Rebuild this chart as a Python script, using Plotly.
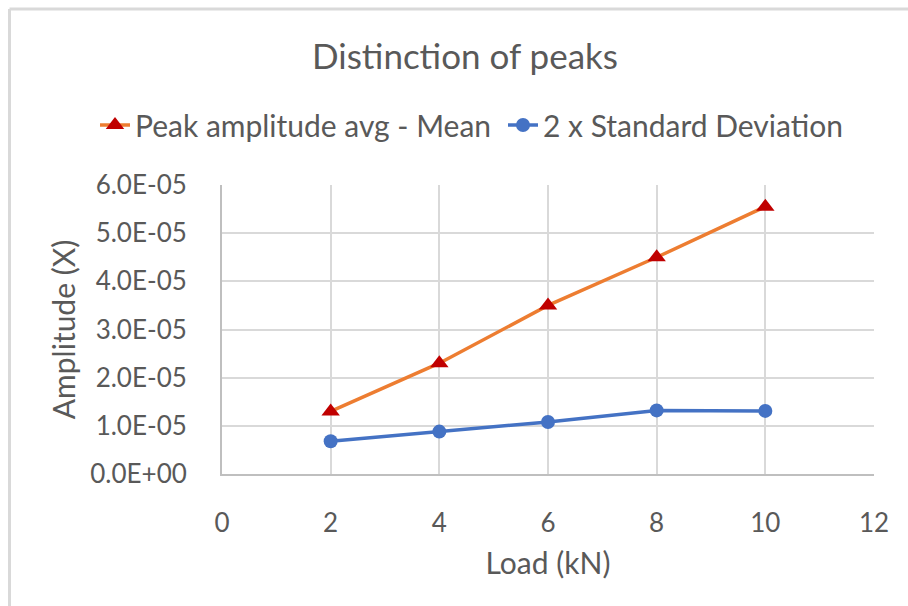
import plotly.graph_objects as go

# Load steps (kN)
load_kn = [2, 4, 6, 8, 10]
# Peak amplitude average minus mean
peak_minus_mean = [1.30e-05, 2.30e-05, 3.50e-05, 4.50e-05, 5.55e-05]
# Two times the standard deviation
two_std = [0.68e-05, 0.88e-05, 1.08e-05, 1.32e-05, 1.31e-05]

x_ticks = [0, 2, 4, 6, 8, 10, 12]
y_ticks = [0, 1e-05, 2e-05, 3e-05, 4e-05, 5e-05, 6e-05]
y_tick_text = ["0.0E+00", "1.0E-05", "2.0E-05", "3.0E-05", "4.0E-05", "5.0E-05", "6.0E-05"]

FONT = "Lato"
TEXT = "#595959"
GRID = "#D9D9D9"

fig = go.Figure()
fig.add_trace(go.Scatter(
    x=load_kn, y=peak_minus_mean, mode="lines+markers",
    name="Peak amplitude avg - Mean",
    line=dict(color="#ED7D31", width=3.5),
    marker=dict(symbol="triangle-up", size=16, color="#C00000"),
))
fig.add_trace(go.Scatter(
    x=load_kn, y=two_std, mode="lines+markers",
    name="2 x Standard Deviation",
    line=dict(color="#4472C4", width=3.5),
    marker=dict(symbol="circle", size=14, color="#4472C4"),
))

L, R, T, B = 222, 34, 185, 132
W, H = 908, 606
pw, ph = W - L - R, H - T - B

fig.update_layout(
    width=W, height=H,
    margin=dict(l=L, r=R, t=T, b=B, autoexpand=False),
    paper_bgcolor="white", plot_bgcolor="white",
    font=dict(family=FONT, color=TEXT, size=26),
    title=dict(text="Distinction of peaks", x=465 / W, xanchor="center",
               y=1 - 57 / H, yanchor="middle", yref="container",
               font=dict(size=35, color=TEXT, family=FONT)),
    # legend sits left of and above the plot area so it may span the full width
    legend=dict(orientation="h", x=(95 - L) / pw, xanchor="left",
                y=(H - B - 125) / ph, yanchor="middle",
                font=dict(size=30, color=TEXT, family=FONT),
                entrywidth=363, entrywidthmode="pixels",
                itemwidth=30, bgcolor="rgba(0,0,0,0)"),
    showlegend=True,
)

fig.update_xaxes(
    range=[0, 12], tickvals=x_ticks, showgrid=True, gridcolor=GRID, gridwidth=2,
    zeroline=False, showline=True, linecolor="#BFBFBF", linewidth=2,
    ticks="", ticklabelstandoff=25,
    tickfont=dict(size=26, color=TEXT, family=FONT),
    title=dict(text="Load (kN)", font=dict(size=30, color=TEXT, family=FONT), standoff=16),
)
fig.update_yaxes(
    range=[0, 6e-05], tickvals=y_ticks, ticktext=y_tick_text,
    showgrid=True, gridcolor=GRID, gridwidth=2,
    zeroline=False, showline=True, linecolor="#BFBFBF", linewidth=2,
    ticks="", ticklabelstandoff=28,
    tickfont=dict(size=26, color=TEXT, family=FONT),
    title=dict(text="Amplitude (X)", font=dict(size=30, color=TEXT, family=FONT), standoff=6),
)

# Chart frame: left and top edges of the border box
bx = (9.5 - L) / pw
by = (H - B - 9) / ph
fig.add_shape(type="line", xref="paper", yref="paper", x0=bx, x1=bx, y0=-1, y1=by,
              line=dict(color=GRID, width=3))
fig.add_shape(type="line", xref="paper", yref="paper", x0=bx, x1=1.2, y0=by, y1=by,
              line=dict(color=GRID, width=3))

fig.write_html("out.html")
